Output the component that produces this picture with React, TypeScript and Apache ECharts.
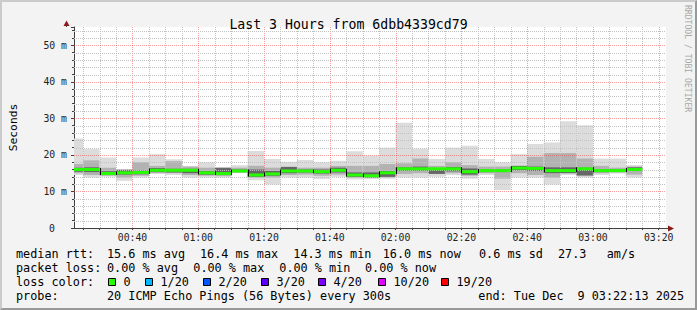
import React, { useEffect, useRef } from 'react';
import * as echarts from 'echarts';

const TITLE = 'Last 3 Hours from 6dbb4339cd79';
const Y_NAME = 'Seconds';
const WATERMARK = 'RRDTOOL / TOBI OETIKER';
const AXIS_START = '00:22:13';
const AXIS_END = '03:22:13';
const xTickLabels = ['00:40', '01:00', '01:20', '01:40', '02:00', '02:20', '02:40', '03:00', '03:20'];
const yMax = 55;

const stepEnds = [
  '00:25', '00:30', '00:35', '00:40', '00:45', '00:50', '00:55',
  '01:00', '01:05', '01:10', '01:15', '01:20', '01:25', '01:30', '01:35', '01:40', '01:45', '01:50', '01:55',
  '02:00', '02:05', '02:10', '02:15', '02:20', '02:25', '02:30', '02:35', '02:40', '02:45', '02:50', '02:55',
  '03:00', '03:05', '03:10', '03:15',
];
const medianMs = [16.0, 16.0, 14.9, 15.1, 15.2, 15.8, 15.8, 15.8, 15.1, 14.9, 15.6, 14.5, 14.8, 15.6, 15.6, 15.4, 15.8, 14.5, 14.3, 15.1, 16.2, 16.2, 16.2, 16.2, 15.4, 15.7, 15.7, 16.4, 16.3, 15.7, 15.7, 16.2, 15.7, 15.7, 16.0];
const minMs = [14.5, 13.8, 14.0, 12.9, 13.8, 14.8, 14.5, 13.8, 13.8, 13.8, 15.0, 13.1, 11.9, 13.8, 13.8, 13.4, 14.0, 13.3, 13.4, 13.5, 13.8, 13.8, 14.0, 14.5, 13.5, 14.5, 10.4, 13.8, 13.8, 11.9, 14.5, 13.8, 14.5, 14.9, 13.8];
const q1Ms = [15.0, 14.5, 14.3, 13.8, 14.3, 15.0, 15.0, 14.5, 14.3, 14.2, 15.2, 13.8, 13.8, 14.5, 14.6, 14.3, 14.6, 13.8, 13.8, 13.9, 14.8, 15.0, 14.8, 15.0, 14.3, 15.0, 13.5, 15.0, 14.5, 13.8, 15.0, 14.2, 15.0, 15.2, 14.6];
const coreLowMs = [15.4, 15.3, 14.5, 14.6, 14.7, 15.3, 15.2, 15.0, 14.6, 14.6, 15.3, 14.0, 14.3, 15.0, 15.2, 14.9, 15.2, 14.0, 13.8, 14.0, 15.7, 15.7, 14.8, 15.5, 14.6, 15.3, 15.3, 15.8, 15.6, 15.0, 15.0, 14.4, 15.3, 15.4, 15.6];
const coreHighMs = [16.5, 16.6, 15.5, 15.9, 15.7, 16.4, 16.2, 16.2, 15.6, 16.4, 16.0, 16.0, 15.6, 16.7, 16.0, 16.0, 16.5, 15.2, 15.2, 15.6, 16.6, 16.8, 16.3, 16.7, 16.3, 16.0, 16.0, 17.0, 16.8, 16.6, 16.6, 16.5, 16.0, 16.0, 16.6];
const q3Ms = [17.5, 18.5, 16.5, 16.0, 18.0, 17.0, 18.3, 16.8, 16.5, 16.6, 16.5, 17.0, 16.5, 16.8, 16.5, 16.5, 17.0, 17.0, 17.0, 17.5, 17.7, 19.0, 17.0, 18.0, 17.2, 16.8, 16.8, 17.0, 19.5, 20.5, 20.5, 19.0, 17.0, 16.5, 16.8];
const maxMs = [24.5, 21.6, 19.3, 16.1, 19.3, 20.2, 18.8, 17.0, 18.0, 16.6, 17.2, 21.1, 18.9, 18.1, 18.6, 18.0, 18.4, 21.0, 19.8, 22.0, 28.8, 21.7, 18.9, 22.0, 22.5, 18.9, 18.0, 20.2, 23.0, 23.4, 29.2, 28.1, 19.0, 19.0, 17.2];
const STEP_MIN = 5;

const rttLabel = 'median rtt:';
const rttStats = ['15.6 ms avg', '16.4 ms max', '14.3 ms min', '16.0 ms now', '0.6 ms sd', '27.3', 'am/s'];
const lossLabel = 'packet loss:';
const lossStats = ['0.00 % avg', '0.00 % max', '0.00 % min', '0.00 % now'];
const colorLabel = 'loss color:';
const lossNames = ['0', '1/20', '2/20', '3/20', '4/20', '10/20', '19/20'];
const lossColors = ['#26ff00', '#00b8ff', '#0059ff', '#5e00ff', '#7e00ff', '#dd00ff', '#ff0000'];
const probeLabel = 'probe:';
const probeText = '20 ICMP Echo Pings (56 Bytes) every 300s';
const endText = ['end: Tue Dec', '9 03:22:13 2025'];

const MONO = '"DejaVu Sans Mono", monospace';

const toMin = (s: string) => {
  const p = s.split(':').map(Number);
  return p[0] * 60 + p[1] + (p[2] || 0) / 60;
};
const fmt = (v: number) => {
  const t = Math.round(v);
  return String(Math.floor(t / 60)).padStart(2, '0') + ':' + String(t % 60).padStart(2, '0');
};

export default function App() {
  const ref = useRef<HTMLDivElement>(null);
  useEffect(() => {
    const chart = echarts.init(ref.current!, null, { renderer: 'svg' });
    const xMin = toMin(AXIS_START);
    const xMax = toMin(AXIS_END);

    const smokeData = stepEnds.map((e, i) => {
      const end = toMin(e);
      return [end - STEP_MIN, end, minMs[i], q1Ms[i], coreLowMs[i], coreHighMs[i], q3Ms[i], maxMs[i], medianMs[i]];
    });
    const medData = stepEnds.map((e, i) => {
      const end = toMin(e);
      return [end - STEP_MIN, end, medianMs[i], i > 0 ? medianMs[i - 1] : medianMs[i]];
    });

    const vGrid: number[][] = [];
    for (let t = Math.ceil(xMin / 5) * 5; t <= xMax; t += 5) vGrid.push([t, t % 20 === 0 ? 1 : 0]);
    const hGrid: number[][] = [];
    for (let v = 2; v < yMax; v += 2) hGrid.push([v, v % 10 === 0 ? 1 : 0]);

    const minorC = '#c2c2c2';
    const majorC = 'rgba(240,60,60,0.5)';

    const text = (t: string, x: number, y: number) => ({
      type: 'text', x, y, silent: true,
      style: { text: t, fill: '#000', fontFamily: MONO, fontSize: 11.8, verticalAlign: 'middle', align: 'left' },
    });

    const graphics: any[] = [];
    const rows = [254.3, 268.3, 282.3, 296];
    graphics.push(text(rttLabel, 16, rows[0]));
    const rttX = [107, 200, 293.3, 382.7, 479, 558, 606.7];
    rttStats.forEach((s, i) => graphics.push(text(s, rttX[i], rows[0])));
    graphics.push(text(lossLabel, 16, rows[1]));
    const lossX = [107, 193.3, 279.3, 365];
    lossStats.forEach((s, i) => graphics.push(text(s, lossX[i], rows[1])));
    graphics.push(text(colorLabel, 16, rows[2]));
    const boxX = [108.5, 145.5, 203.5, 261.5, 318.5, 378.5, 441.5];
    lossNames.forEach((n, i) => {
      graphics.push({
        type: 'rect', silent: true,
        shape: { x: boxX[i], y: 278.5, width: 7, height: 7 },
        style: { fill: lossColors[i], stroke: '#000', lineWidth: 1 },
      });
      graphics.push(text(n, boxX[i] + 15, rows[2]));
    });
    graphics.push(text(probeLabel, 16, rows[3]));
    graphics.push(text(probeText, 107, rows[3]));
    graphics.push(text(endText[0], 478.3, rows[3]));
    graphics.push(text(endText[1], 577.5, rows[3]));
    graphics.push({
      type: 'text', x: 688, y: 5, rotation: -Math.PI / 2, silent: true,
      style: { text: WATERMARK, fill: '#a8a8a8', fontFamily: MONO, fontSize: 8.1, align: 'left', verticalAlign: 'middle' },
    });
    graphics.push({ type: 'line', silent: true, shape: { x1: 66.5, y1: 27, x2: 66.5, y2: 22 }, style: { stroke: '#404040', lineWidth: 1 } });
    graphics.push({ type: 'polygon', silent: true, shape: { points: [[63.5, 26], [69.5, 26], [66.5, 20.5]] }, style: { fill: '#8b1a1a' } });
    graphics.push({ type: 'line', silent: true, shape: { x1: 666, y1: 228.5, x2: 670, y2: 228.5 }, style: { stroke: '#404040', lineWidth: 1 } });
    graphics.push({ type: 'polygon', silent: true, shape: { points: [[668, 225.5], [668, 231.5], [674, 228.5]] }, style: { fill: '#8b1a1a' } });

    const option: any = {
      animation: false,
      backgroundColor: '#f3f3f3',
      title: {
        text: TITLE, left: 'center', top: 11,
        textStyle: { fontFamily: MONO, fontSize: 13.2, fontWeight: 'normal', color: '#000', lineHeight: 16 },
      },
      grid: { left: 66, right: 31, top: 27, bottom: 82, show: true, backgroundColor: '#ffffff', borderWidth: 0 },
      xAxis: {
        type: 'value', min: xMin, max: xMax,
        axisLine: { show: true, lineStyle: { color: '#404040', width: 1 } },
        axisTick: { show: true, length: 2, customValues: vGrid.map((g) => g[0]), lineStyle: { color: '#404040' } },
        axisLabel: {
          customValues: xTickLabels.map(toMin),
          formatter: (v: number) => fmt(v),
          fontFamily: MONO, fontSize: 9.8, color: '#222', margin: 4,
        },
        splitLine: { show: false },
      },
      yAxis: {
        type: 'value', min: 0, max: yMax, interval: 10,
        name: Y_NAME, nameLocation: 'middle', nameGap: 55, nameRotate: 90,
        nameTextStyle: { fontFamily: MONO, fontSize: 11.3, color: '#000' },
        axisLine: { show: true, lineStyle: { color: '#404040', width: 1 } },
        axisTick: { show: true, length: 3, lineStyle: { color: '#404040' } },
        minorTick: { show: true, splitNumber: 5, length: 2, lineStyle: { color: '#404040' } },
        axisLabel: {
          fontFamily: MONO, fontSize: 9.8, color: '#222', margin: 7,
          formatter: (v: number) => (v % 10 !== 0 ? '' : v === 0 ? '{z|0}' : v + ' m'),
          rich: { z: { fontFamily: MONO, fontSize: 9.8, color: '#222', padding: [0, 12, 0, 0] } },
        },
        splitLine: { show: false },
        minorSplitLine: { show: false },
      },
      graphic: graphics,
      series: [
        {
          type: 'custom', name: 'smoke', z: 1, clip: true, silent: true,
          data: smokeData,
          renderItem: (_p: any, api: any) => {
            const s = api.value(0), e = api.value(1);
            const band = (lo: number, hi: number, fill: string) => {
              const a = api.coord([s, hi]);
              const b = api.coord([e, lo]);
              return { type: 'rect', shape: { x: a[0], y: a[1], width: b[0] - a[0], height: b[1] - a[1] }, style: { fill } };
            };
            return {
              type: 'group',
              children: [
                band(api.value(2), api.value(7), '#dcdcdc'),
                band(api.value(3), api.value(6), '#b2b2b2'),
                band(api.value(4), api.value(5), '#666666'),
              ],
            };
          },
        },
        {
          type: 'custom', name: 'vgrid', z: 2, clip: true, silent: true,
          data: vGrid,
          renderItem: (_p: any, api: any) => {
            const t = api.value(0);
            const a = api.coord([t, 0]);
            const b = api.coord([t, yMax]);
            const x = Math.round(a[0]) + 0.5;
            return { type: 'line', shape: { x1: x, y1: a[1], x2: x, y2: b[1] }, style: { stroke: api.value(1) ? majorC : minorC, lineWidth: 1, lineDash: [1, 1] } };
          },
        },
        {
          type: 'custom', name: 'hgrid', z: 2, clip: true, silent: true,
          data: hGrid.map((g) => [xMin, g[0], g[1]]),
          renderItem: (_p: any, api: any) => {
            const v = api.value(1);
            const a = api.coord([xMin, v]);
            const b = api.coord([xMax, v]);
            const y = Math.round(a[1]) + 0.5;
            return { type: 'line', shape: { x1: a[0], y1: y, x2: b[0], y2: y }, style: { stroke: api.value(2) ? majorC : minorC, lineWidth: 1, lineDash: [1, 1] } };
          },
        },
        {
          type: 'custom', name: 'median', z: 3, clip: true, silent: true,
          data: medData,
          renderItem: (_p: any, api: any) => {
            const s = api.value(0), e = api.value(1), m = api.value(2), pm = api.value(3);
            const a = api.coord([s, m]);
            const b = api.coord([e, m]);
            const p = api.coord([s, pm]);
            const children: any[] = [
              { type: 'rect', shape: { x: a[0], y: a[1] - 1.5, width: b[0] - a[0], height: 3 }, style: { fill: lossColors[0] } },
            ];
            if (Math.abs(p[1] - a[1]) > 0.5) {
              const x = Math.round(a[0]) + 0.5;
              children.push({ type: 'line', shape: { x1: x, y1: Math.min(a[1], p[1]) - 1.5, x2: x, y2: Math.max(a[1], p[1]) + 1.5 }, style: { stroke: '#000', lineWidth: 1 } });
            }
            return { type: 'group', children };
          },
        },
      ],
    };
    chart.setOption(option);
    return () => chart.dispose();
  }, []);

  return (
    <div style={{ position: 'fixed', left: 0, top: 0, width: 697, height: 310 }}>
      <div ref={ref} style={{ position: 'absolute', left: 0, top: 0, width: 697, height: 310 }} />
      <div
        style={{
          position: 'absolute', left: 0, top: 0, width: 697, height: 310, boxSizing: 'border-box',
          borderTop: '2px solid #cbcbcb', borderLeft: '2px solid #cbcbcb',
          borderBottom: '2px solid #999999', borderRight: '2px solid #999999', pointerEvents: 'none',
        }}
      />
    </div>
  );
}
